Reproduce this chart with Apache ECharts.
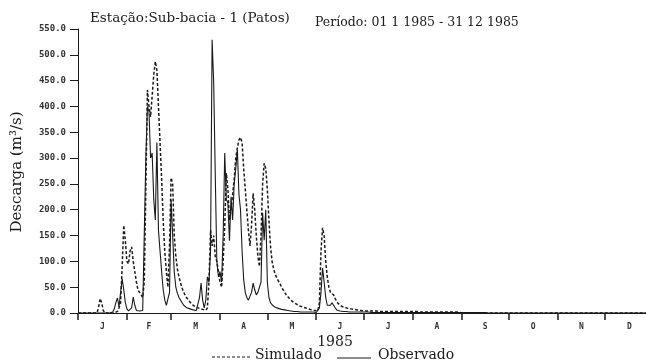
<!DOCTYPE html>
<html>
<head>
<meta charset="utf-8">
<script src="https://cdn.jsdelivr.net/npm/echarts@6/dist/echarts.min.js"></script>
<style>
  html, body { margin: 0; padding: 0; background: #fff; }
  #chart { width: 646px; height: 363px; }
</style>
</head>
<body>
<div id="chart"></div>
<script>
// dias do ano (inicio de cada mes) e letras dos meses
var monthStarts = [0, 31, 59, 90, 120, 151, 181, 212, 243, 273, 304, 334, 365];
var monthLetters = ['J', 'F', 'M', 'A', 'M', 'J', 'J', 'A', 'S', 'O', 'N', 'D'];
var yTicks = [0, 50, 100, 150, 200, 250, 300, 350, 400, 450, 500, 550];

// vazao observada (m3/s), um valor por dia
var observado = [
  0, 0, 0, 0, 0, 0, 0, 0, 0, 0,
  0, 0, 0, 0, 0, 0, 0, 0, 0, 0,
  0, 0, 2, 8, 20, 29, 12, 40, 66, 45,
  20, 8, 4, 3, 10, 31, 15, 5, 4, 4,
  4, 5, 6, 300, 400, 390, 300, 310, 220, 180,
  330, 160, 120, 80, 45, 25, 15, 12, 40, 220,
  150, 80, 50, 38, 30, 25, 20, 15, 12, 10,
  9, 8, 7, 6, 6, 5, 8, 30, 58, 25,
  10, 25, 70, 60, 120, 529, 446, 267, 100, 70,
  80, 60, 150, 310, 220, 213, 140, 225, 180, 250,
  280, 316, 230, 200, 120, 65, 40, 30, 25, 28,
  40, 58, 45, 35, 40, 38, 60, 194, 141, 200,
  60, 30, 20, 16, 13, 11, 10, 9, 8, 7,
  6, 6, 5, 5, 4, 4, 4, 3, 3, 3,
  3, 2, 2, 2, 2, 2, 2, 2, 2, 2,
  1, 1, 2, 10, 40, 87, 60, 30, 15, 12,
  15, 20, 18, 10, 6, 5, 4, 3, 3, 3,
  3, 3, 2, 2, 2, 2, 2, 2, 2, 2,
  2, 2, 2, 2, 2, 2, 1, 1, 1, 1,
  1, 1, 1, 1, 1, 1, 1, 1, 1, 1,
  1, 1, 1, 1, 1, 1, 1, 1, 1, 1,
  1, 1, 1, 1, 1, 1, 1, 1, 1, 1,
  1, 1, 1, 1, 1, 1, 1, 1, 1, 1,
  1, 1, 1, 1, 1, 1, 1, 1, 1, 1,
  1, 1, 1, 1, 1, 1, 1, 1, 1, 1,
  1, 1, 1, 1, 1, 1, 1, 1, 1, 1,
  0, 0, 0, 0, 0, 0, 0, 0, 0, 0,
  0, 0, 0, 0, 0, 0, 0, 0, 0, 0,
  0, 0, 0, 0, 0, 0, 0, 0, 0, 0,
  0, 0, 0, 0, 0, 0, 0, 0, 0, 0,
  0, 0, 0, 0, 0, 0, 0, 0, 0, 0,
  0, 0, 0, 0, 0, 0, 0, 0, 0, 0,
  0, 0, 0, 0, 0, 0, 0, 0, 0, 0,
  0, 0, 0, 0, 0, 0, 0, 0, 0, 0,
  0, 0, 0, 0, 0, 0, 0, 0, 0, 0,
  0, 0, 0, 0, 0, 0, 0, 0, 0, 0,
  0, 0, 0, 0, 0
];

// vazao simulada (m3/s), um valor por dia
var simulado = [
  0, 0, 0, 0, 0, 0, 0, 0, 0, 0,
  0, 0, 0, 10, 28, 20, 5, 0, 0, 0,
  0, 0, 0, 0, 0, 3, 10, 20, 90, 170,
  140, 100, 95, 120, 128, 100, 80, 60, 45, 40,
  35, 30, 60, 240, 432, 400, 380, 420, 461, 487,
  470, 400, 330, 260, 180, 120, 80, 50, 130, 262,
  250, 150, 110, 85, 70, 58, 48, 40, 34, 29,
  25, 21, 18, 15, 13, 11, 10, 9, 8, 7,
  6, 5, 10, 60, 160, 130, 150, 110, 100, 80,
  60, 50, 100, 170, 271, 240, 180, 200, 230, 260,
  300, 320, 335, 340, 330, 280, 240, 200, 160, 130,
  170, 232, 200, 150, 110, 90, 150, 250, 290, 280,
  240, 180, 130, 100, 85, 75, 68, 62, 57, 50,
  45, 40, 35, 32, 28, 25, 22, 20, 18, 16,
  14, 13, 12, 11, 10, 9, 8, 7, 6, 5,
  5, 4, 4, 20, 120, 165, 150, 100, 70, 50,
  40, 41, 35, 28, 22, 18, 15, 13, 12, 11,
  10, 9, 8, 8, 7, 7, 6, 6, 5, 5,
  5, 4, 4, 4, 4, 4, 4, 4, 4, 4,
  3, 3, 3, 3, 3, 3, 3, 3, 3, 3,
  3, 3, 3, 3, 3, 3, 3, 3, 3, 3,
  3, 3, 3, 3, 3, 3, 2, 2, 2, 2,
  2, 2, 2, 2, 2, 2, 2, 2, 2, 2,
  2, 2, 2, 2, 2, 2, 2, 2, 2, 2,
  2, 2, 2, 0, 0, 0, 0, 0, 0, 0,
  0, 0, 0, 0, 0, 0, 0, 0, 0, 0,
  0, 0, 0, 0, 0, 0, 0, 0, 0, 0,
  0, 0, 0, 0, 0, 0, 0, 0, 0, 0,
  0, 0, 0, 0, 0, 0, 0, 0, 0, 0,
  0, 0, 0, 0, 0, 0, 0, 0, 0, 0,
  0, 0, 0, 0, 0, 0, 0, 0, 0, 0,
  0, 0, 0, 0, 0, 0, 0, 0, 0, 0,
  0, 0, 0, 0, 0, 0, 0, 0, 0, 0,
  0, 0, 0, 0, 0, 0, 0, 0, 0, 0,
  0, 0, 0, 0, 0, 0, 0, 0, 0, 0,
  0, 0, 0, 0, 0, 0, 0, 0, 0, 0,
  0, 0, 0, 0, 0
];

var serif = 'DejaVu Serif';
var ink = '#1a1a1a';

// meio de cada mes, onde vai a letra
var labelDays = [];
for (var i = 0; i < monthLetters.length; i++) {
    labelDays.push((monthStarts[i] + monthStarts[i + 1]) / 2);
}

function pares(arr) {
    return arr.map(function (v, d) { return [d, v]; });
}

var myChart = echarts.init(document.getElementById('chart'));

var option = {
    backgroundColor: '#fff',
    animation: false,
    grid: { left: 78, right: 0, top: 29, bottom: 50 },
    xAxis: {
        type: 'value',
        min: 0,
        max: 360,
        axisLine: { lineStyle: { color: ink, width: 1 } },
        axisTick: {
            customValues: monthStarts.slice(0, 12),
            length: 7,
            lineStyle: { color: ink, width: 1.5 }
        },
        axisLabel: {
            customValues: labelDays,
            margin: 10,
            fontFamily: 'DejaVu Sans Mono',
            fontSize: 8,
            fontWeight: 'bold',
            color: '#333',
            formatter: function (v) {
                return monthLetters[labelDays.indexOf(v)] || '';
            }
        },
        splitLine: { show: false }
    },
    yAxis: {
        type: 'value',
        min: 0,
        max: 550,
        interval: 50,
        axisLine: { show: true, lineStyle: { color: ink, width: 1 } },
        axisTick: { show: true, length: 8, lineStyle: { color: ink, width: 1 } },
        axisLabel: {
            margin: 12,
            fontFamily: 'DejaVu Sans Mono',
            fontSize: 9,
            fontWeight: 'bold',
            color: '#333',
            customValues: yTicks,
            formatter: function (v) { return v.toFixed(1); }
        },
        splitLine: { show: false }
    },
    series: [
        {
            name: 'Simulado',
            type: 'line',
            data: pares(simulado),
            showSymbol: false,
            lineStyle: { color: ink, width: 1.5, type: [3, 2] },
            z: 2
        },
        {
            name: 'Observado',
            type: 'line',
            data: pares(observado),
            showSymbol: false,
            lineStyle: { color: ink, width: 1.1 },
            z: 3
        }
    ],
    graphic: [
        {
            type: 'text', x: 90, y: 18,
            style: { text: 'Estação:Sub-bacia - 1 (Patos)', font: '13.5px ' + serif, fill: ink, verticalAlign: 'middle' }
        },
        {
            type: 'text', x: 315, y: 23,
            style: { text: 'Período: 01 1 1985 - 31 12 1985', font: '12.5px ' + serif, fill: ink, verticalAlign: 'middle' }
        },
        {
            type: 'text', x: 17, y: 172, rotation: Math.PI / 2,
            style: { text: 'Descarga (m³/s)', font: '15px ' + serif, fill: ink, align: 'center', verticalAlign: 'middle' }
        },
        {
            type: 'text', x: 335, y: 342,
            style: { text: '1985', font: '14px ' + serif, fill: ink, align: 'center', verticalAlign: 'middle' }
        },
        {
            type: 'line', shape: { x1: 212, y1: 357, x2: 251, y2: 357 },
            style: { stroke: ink, lineWidth: 1, lineDash: [3, 2] }
        },
        {
            type: 'text', x: 255, y: 355,
            style: { text: 'Simulado', font: '14px ' + serif, fill: ink, verticalAlign: 'middle' }
        },
        {
            type: 'line', shape: { x1: 337, y1: 358, x2: 371, y2: 358 },
            style: { stroke: ink, lineWidth: 1 }
        },
        {
            type: 'text', x: 378, y: 355,
            style: { text: 'Observado', font: '14px ' + serif, fill: ink, verticalAlign: 'middle' }
        }
    ]
};

myChart.setOption(option);
</script>
</body>
</html>
